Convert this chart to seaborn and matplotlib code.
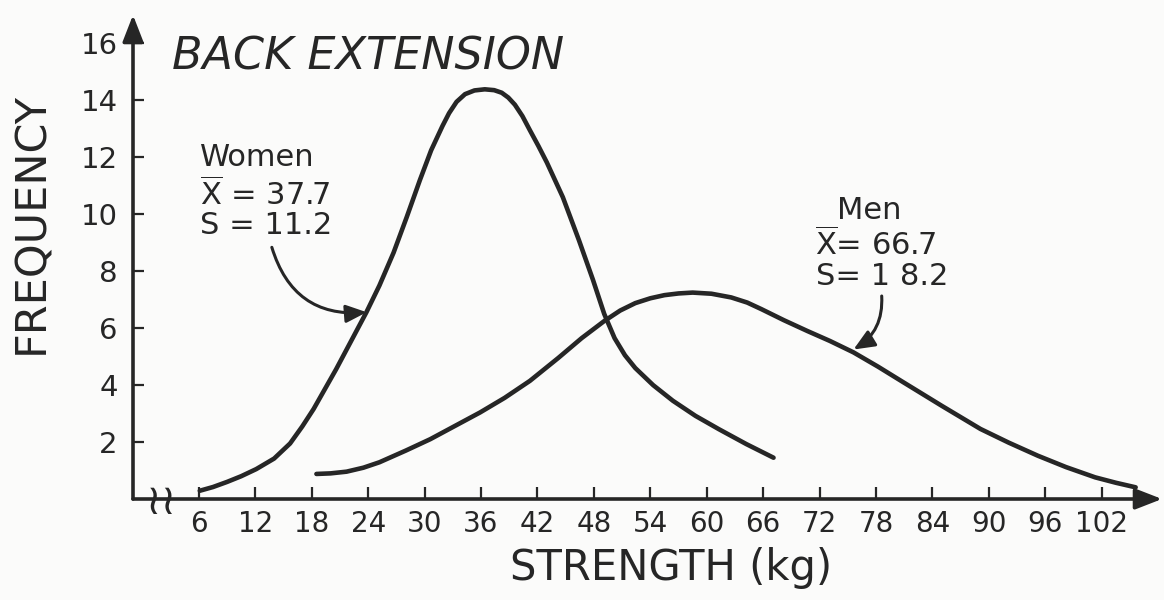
import matplotlib
matplotlib.use("Agg")
import matplotlib.pyplot as plt
import numpy as np
import pandas as pd
import seaborn as sns

# ---- data ----
women_x = [6.1, 7.5, 9.0, 10.5, 12.1, 14.0, 15.7, 17.0, 18.2, 20.6, 23.8, 25.2,
           26.7, 28.1, 29.5, 30.7, 31.9, 32.6, 33.4, 34.3, 35.3, 36.4, 37.4,
           38.2, 38.9, 39.6, 40.4, 41.2, 42.1, 43.0, 44.7, 46.4, 47.9, 49.1,
           50.2, 51.3, 52.4, 54.3, 56.4, 58.8, 61.3, 64.2, 67.1]
women_y = [0.29, 0.42, 0.60, 0.80, 1.05, 1.42, 1.95, 2.55, 3.16, 4.56, 6.55, 7.5,
           8.65, 9.9, 11.2, 12.25, 13.1, 13.55, 13.95, 14.22, 14.35, 14.39, 14.36,
           14.27, 14.1, 13.85, 13.45, 12.95, 12.4, 11.82, 10.6, 9.1, 7.7, 6.5,
           5.65, 5.05, 4.6, 4.0, 3.45, 2.92, 2.45, 1.93, 1.45]
men_x = [18.5, 20.0, 21.7, 23.5, 25.2, 28.0, 30.6, 35.9, 38.5, 41.2, 44.2, 46.7,
         49.1, 50.8, 52.4, 54.0, 55.5, 57.0, 58.5, 60.5, 62.6, 64.3, 65.8,
         68.2, 70.7, 73.1, 75.6, 78.2, 80.9, 85.0, 89.1, 92.1, 95.2, 98.2,
         101.3, 103.5, 105.6]
men_y = [0.88, 0.90, 0.96, 1.10, 1.29, 1.70, 2.10, 3.04, 3.55, 4.15, 4.95, 5.65,
         6.25, 6.62, 6.88, 7.05, 7.16, 7.22, 7.25, 7.21, 7.08, 6.90, 6.67,
         6.28, 5.90, 5.55, 5.15, 4.65, 4.10, 3.27, 2.46, 1.98, 1.52, 1.12,
         0.76, 0.57, 0.41]
x_ticks = [6, 12, 18, 24, 30, 36, 42, 48, 54, 60, 66, 72, 78, 84, 90, 96, 102]
y_ticks = [2, 4, 6, 8, 10, 12, 14, 16]
title = "BACK EXTENSION"
x_label = "STRENGTH (kg)"
y_label = "FREQUENCY"
women_lines = ["Women", r"$\overline{\mathrm{X}}$ = 37.7", "S = 11.2"]
men_lines = ["Men", r"$\overline{\mathrm{X}}$= 66.7", "S= 1 8.2"]

INK = "#262626"
BG = "#fbfbfa"

sns.set_theme(style="white")
plt.rcParams["font.family"] = ["DejaVu Sans"]
plt.rcParams["mathtext.fontset"] = "dejavusans"

df = pd.DataFrame({
    "strength": women_x + men_x,
    "freq": women_y + men_y,
    "group": ["Women"] * len(women_x) + ["Men"] * len(men_x),
})

fig = plt.figure(figsize=(11.64, 6.0), dpi=100, facecolor=BG)
ax = fig.add_axes([133 / 1164, 1 - 499 / 600, 1029 / 1164, 484 / 600])
ax.set_facecolor(BG)

sns.lineplot(data=df, x="strength", y="freq", hue="group",
             palette={"Women": INK, "Men": INK}, estimator=None, sort=False,
             lw=3.3, legend=False, ax=ax, solid_capstyle="round",
             solid_joinstyle="round")

XMIN, XMAX, YMAX = -1.0, 108.4, 17.0
ax.set_xlim(XMIN, XMAX)
ax.set_ylim(0, YMAX)
for s in ax.spines.values():
    s.set_visible(False)

# axes with arrow heads
arrow_kw = dict(arrowstyle="-|>,head_length=0.9,head_width=0.35", lw=2.6,
                color=INK, shrinkA=0, shrinkB=0, mutation_scale=18)
ax.annotate("", xy=(XMAX, 0), xytext=(XMIN, 0), arrowprops=arrow_kw,
            annotation_clip=False)
ax.annotate("", xy=(XMIN, YMAX), xytext=(XMIN, 0), arrowprops=arrow_kw,
            annotation_clip=False)

ax.set_xticks(x_ticks)
ax.set_xticklabels([str(v) for v in x_ticks])
ax.set_yticks(y_ticks)
ax.set_yticklabels([str(v) for v in y_ticks])
ax.tick_params(axis="x", direction="in", length=9, width=1.6, pad=8,
               labelsize=20, colors=INK, bottom=True)
ax.tick_params(axis="y", direction="in", length=8, width=1.6, pad=11,
               labelsize=21, colors=INK, left=True)
ax.set_xlabel("")
ax.set_ylabel("")
ax.grid(False)

# axis break mark
ax.text(2.0, -0.1, "≀≀", fontsize=30, color=INK, ha="center", va="center")

# title
ax.text(3.1, 15.54, title, fontsize=32, style="italic", color=INK,
        ha="left", va="center")

# annotations
for txt, yy in zip(women_lines, [12.0, 10.7, 9.61]):
    ax.text(6.1, yy, txt, fontsize=22, color=INK, ha="left", va="center")
for txt, yy, xx in zip(men_lines, [10.14, 8.95, 7.82], [73.8, 71.5, 71.6]):
    ax.text(xx, yy, txt, fontsize=22, color=INK, ha="left", va="center")

small_arrow = dict(arrowstyle="-|>,head_length=0.7,head_width=0.3", lw=2.2,
                   color=INK, shrinkA=0, shrinkB=0, mutation_scale=18)
ax.annotate("", xy=(23.85, 6.56), xytext=(13.76, 8.84),
            arrowprops=dict(small_arrow, connectionstyle="arc3,rad=0.4"))
ax.annotate("", xy=(75.6, 5.25), xytext=(78.6, 7.13),
            arrowprops=dict(small_arrow, connectionstyle="arc3,rad=-0.3"))

fig.text(31 / 1164, 1 - 223 / 600, y_label, rotation=90, fontsize=31,
         color=INK, ha="center", va="center")
fig.text(671 / 1164, 1 - 568 / 600, x_label, fontsize=30, color=INK,
         ha="center", va="center")

fig.savefig("out.png", dpi=100, facecolor=BG)
